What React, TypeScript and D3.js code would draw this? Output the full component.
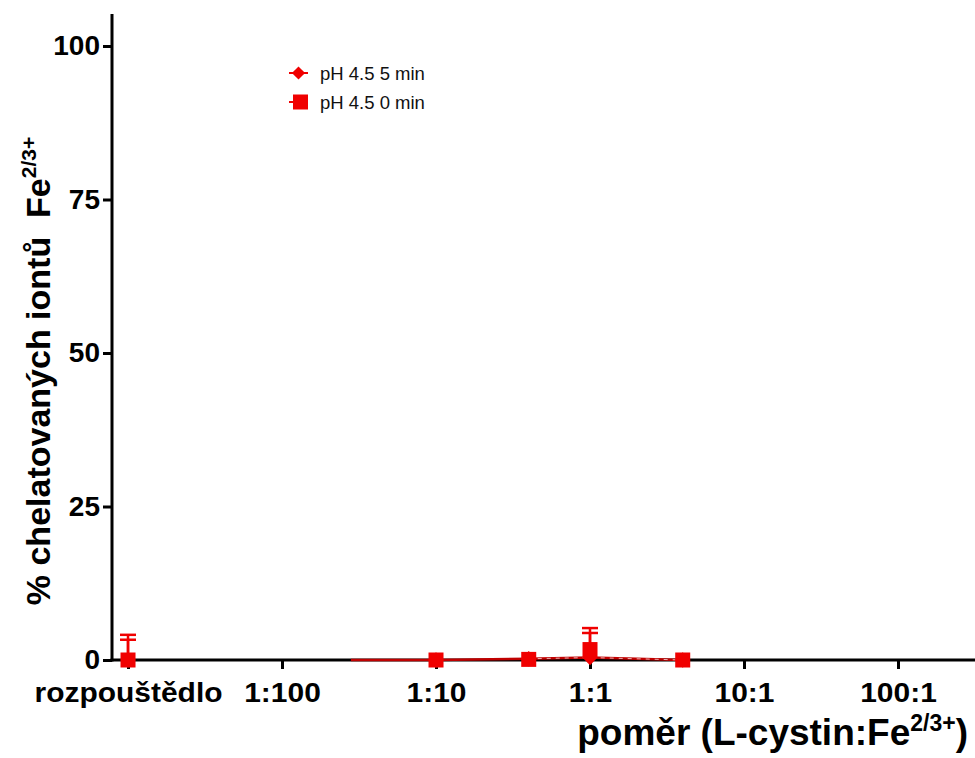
import * as d3 from 'd3';
import React, { useRef, useEffect } from 'react';

// x positions: ratio L-cystin:Fe (solvent placed one decade below 1:100)
const solventX = 0.001
const tickValues = [0.001, 0.01, 0.1, 1, 10, 100]
const tickLabels = ['rozpouštědlo', '1:100', '1:10', '1:1', '10:1', '100:1']
const yTicks = [0, 25, 50, 75, 100]

// pH 4.5 5 min (diamonds, hidden under the squares)
const x5 = [0.028, 0.1, 0.4, 1, 4]
const y5 = [0, 0, 0.2, 0.4, 0]
const marker5 = [false, true, true, true, true]
const solvent5 = 0
const solventSd5 = 3.3
const sd5 = [0, 0, 0, 4.0, 0]

// pH 4.5 0 min (squares)
const x0 = [0.1, 0.4, 1, 4]
const y0 = [0, 0.1, 1.7, 0]
const solvent0 = 0
const solventSd0 = 4.1
const sd0 = [0, 0, 3.5, 0]

const seriesNames = ['pH 4.5 5 min', 'pH 4.5 0 min']

export default function App() {
    const ref = useRef(null)

    useEffect(() => {
        const svg = d3.select(ref.current)
        svg.selectAll('*').remove()

        const red = '#f00000'
        const dark = '#c00000'
        const font = 'Arial, "Liberation Sans", sans-serif'

        const x = d3.scaleLog()
            .domain([Math.pow(10, -3.104), Math.pow(10, 2.5)])
            .range([112, 975])
        const y = d3.scaleLinear().domain([0, 100]).range([660, 46])

        // y axis
        const yAxis = d3.axisLeft(y).tickValues(yTicks).tickSize(9).tickPadding(3).tickFormat(d3.format('d'))
        const gy = svg.append('g').attr('transform', 'translate(112,0)').call(yAxis)
        gy.select('.domain').remove()
        gy.selectAll('line').attr('stroke', '#000').attr('stroke-width', 3)
        gy.selectAll('text')
            .style('font-family', font).style('font-size', '28px').style('font-weight', 'bold').attr('fill', '#000')
        svg.append('line').attr('x1', 112).attr('x2', 112).attr('y1', 14).attr('y2', 661.5)
            .attr('stroke', '#000').attr('stroke-width', 3)

        // x axis
        const xAxis = d3.axisBottom(x).tickValues(tickValues).tickSize(9)
            .tickFormat((d, i) => tickLabels[i])
        const gx = svg.append('g').attr('transform', 'translate(0,660)').call(xAxis)
        gx.select('.domain').remove()
        gx.selectAll('line').attr('stroke', '#000').attr('stroke-width', 3)
        gx.selectAll('text')
            .attr('y', 42).attr('dy', 0)
            .attr('transform', 'scale(1.07,1)')
            .style('font-family', font).style('font-size', '28px').style('font-weight', 'bold').attr('fill', '#000')
        svg.append('line').attr('x1', 110.5).attr('x2', 975).attr('y1', 660).attr('y2', 660)
            .attr('stroke', '#000').attr('stroke-width', 3)

        // axis titles
        const yt = svg.append('text')
            .attr('transform', 'translate(50,371) rotate(-90)')
            .attr('text-anchor', 'middle')
            .attr('xml:space', 'preserve')
            .style('white-space', 'pre')
            .style('font-family', font).style('font-size', '34px').style('font-weight', 'bold')
        yt.append('tspan').text('% chelatovaných iontů  Fe')
        yt.append('tspan').attr('dy', -14).style('font-size', '21px').text('2/3+')

        const xt = svg.append('text')
            .attr('x', 968).attr('y', 745)
            .attr('text-anchor', 'end')
            .style('font-family', font).style('font-size', '37px').style('font-weight', 'bold')
        xt.append('tspan').text('poměr (L-cystin:Fe')
        xt.append('tspan').attr('dy', -14).style('font-size', '23px').text('2/3+')
        xt.append('tspan').attr('dy', 14).text(')')

        const line = d3.line().x(d => x(d[0])).y(d => y(d[1]))

        // error bars
        const errs = [
            [solventX, solvent5, solventSd5],
            [solventX, solvent0, solventSd0],
            ...x5.map((v, i) => [v, y5[i], sd5[i]]),
            ...x0.map((v, i) => [v, y0[i], sd0[i]])
        ].filter(d => d[2] > 0)
        errs.forEach(([xv, yv, sd]) => {
            const cx = x(xv)
            svg.append('line').attr('x1', cx).attr('x2', cx).attr('y1', y(yv)).attr('y2', y(yv + sd))
                .attr('stroke', red).attr('stroke-width', 2.5)
            svg.append('line').attr('x1', cx - 8).attr('x2', cx + 8).attr('y1', y(yv + sd)).attr('y2', y(yv + sd))
                .attr('stroke', red).attr('stroke-width', 2.5)
        })

        // 5 min line (solid), with a light dashed overlay where the two series overlap
        svg.append('path').datum(x5.map((v, i) => [v, y5[i]]))
            .attr('d', line).attr('fill', 'none').attr('stroke', dark).attr('stroke-width', 2.5)
        svg.append('path').datum(x5.map((v, i) => [v, y5[i]]).slice(2))
            .attr('d', line).attr('fill', 'none').attr('stroke', '#fff').attr('stroke-width', 1)
            .attr('stroke-dasharray', '4,5').attr('opacity', 0.7)

        const diamond = d3.symbol().type(d3.symbolDiamond2).size(150)

        // diamond markers
        const pts5 = [[solventX, solvent5], ...x5.map((v, i) => [v, y5[i]]).filter((d, i) => marker5[i])]
        pts5.forEach(d => {
            svg.append('path').attr('d', diamond)
                .attr('transform', `translate(${x(d[0])},${y(d[1])})`)
                .attr('fill', red)
        })
        // square markers
        const pts0 = [[solventX, solvent0], ...x0.map((v, i) => [v, y0[i]])]
        pts0.forEach(d => {
            svg.append('rect')
                .attr('x', x(d[0]) - 7.5).attr('y', y(d[1]) - 7.5).attr('width', 15).attr('height', 15)
                .attr('fill', red)
        })

        // legend
        const lg = svg.append('g').style('font-family', font).style('font-size', '18.5px')
        seriesNames.forEach((name, i) => {
            const cy = 73 + i * 29
            lg.append('line').attr('x1', 289).attr('x2', 308).attr('y1', cy).attr('y2', cy)
                .attr('stroke', red).attr('stroke-width', 2)
            if (i === 0) {
                lg.append('path').attr('d', d3.symbol().type(d3.symbolDiamond2).size(110))
                    .attr('transform', `translate(298.5,${cy})`).attr('fill', red)
            } else {
                lg.append('rect').attr('x', 293).attr('y', cy - 7.5).attr('width', 15).attr('height', 15).attr('fill', red)
            }
            lg.append('text').attr('x', 320).attr('y', cy + 6.5).attr('fill', '#111').text(name)
        })
    }, [])

    return (
        <svg ref={ref} width={975} height={758}
            style={{ position: 'absolute', left: 0, top: 0, background: '#fff' }}>
        </svg>
    )
}
